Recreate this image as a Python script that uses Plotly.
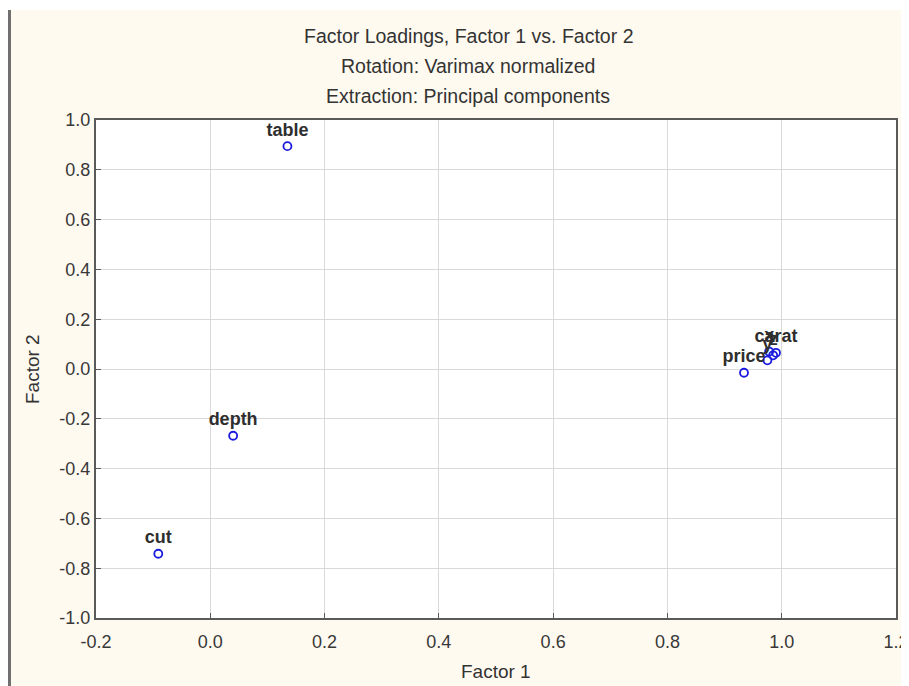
import plotly.graph_objects as go

variables = ["carat", "cut", "depth", "table", "price", "x", "y", "z"]
factor1 = [0.990, -0.091, 0.040, 0.135, 0.934, 0.978, 0.975, 0.985]
factor2 = [0.065, -0.742, -0.268, 0.895, -0.015, 0.070, 0.035, 0.055]

title_lines = ["Factor Loadings, Factor 1 vs. Factor 2",
               "Rotation: Varimax normalized",
               "Extraction: Principal components"]
x_ticks = [-0.2, 0.0, 0.2, 0.4, 0.6, 0.8, 1.0, 1.2]
y_ticks = [-1.0, -0.8, -0.6, -0.4, -0.2, 0.0, 0.2, 0.4, 0.6, 0.8, 1.0]

# page has an 8px body margin, so figure coordinates = reference - 8
OFF = 8
W, H = 909 - OFF, 686 - OFF
L, R, T, B = 88, 13, 112, 68
FONT = "Liberation Sans, Arial"

fig = go.Figure()
fig.add_trace(go.Scatter(
    x=factor1, y=factor2, text=["<b>%s</b>" % v for v in variables],
    mode="markers+text", textposition="top center",
    textfont=dict(family=FONT, size=18, color="#2e2e2e"),
    marker=dict(symbol="circle-open", size=8, color="#1a1adf", line=dict(width=1.8, color="#1a1adf")),
    cliponaxis=False, showlegend=False,
))

axis_common = dict(
    showgrid=True, gridcolor="#d9d9d9", gridwidth=1,
    showline=True, linecolor="#5a5a5a", linewidth=2, mirror=True,
    ticks="inside", ticklen=5, tickcolor="#5a5a5a",
    tickfont=dict(family=FONT, size=18, color="#383838"),
    zeroline=False, automargin=False,
)
fig.update_xaxes(range=[-0.2, 1.2], tickvals=x_ticks, ticktext=[f"{v:.1f}" for v in x_ticks],
                 ticklabelstandoff=6, **axis_common)
fig.update_yaxes(range=[-1.0, 1.0], tickvals=y_ticks, ticktext=[f"{v:.1f}" for v in y_ticks],
                 **axis_common)

pw = W - L - R
ph = H - T - B
def px_x(p):
    return (p - OFF - L) / pw
def px_y(p):
    return 1 - (p - OFF - T) / ph

annos = []
for i, line in enumerate(title_lines):
    annos.append(dict(text=line, x=px_x(468), y=px_y(36 + 30 * i), xref="paper", yref="paper",
                      showarrow=False, xanchor="center", yanchor="middle",
                      font=dict(family=FONT, size=19.5, color="#333333")))
annos.append(dict(text="Factor 1", x=px_x(496), y=px_y(671), xref="paper", yref="paper",
                  showarrow=False, xanchor="center", yanchor="middle",
                  font=dict(family=FONT, size=19, color="#333333")))
annos.append(dict(text="Factor 2", x=px_x(32), y=px_y(369), xref="paper", yref="paper",
                  showarrow=False, xanchor="center", yanchor="middle", textangle=-90,
                  font=dict(family=FONT, size=19, color="#333333")))

shapes = [
    dict(type="rect", xref="paper", yref="paper", x0=px_x(0), x1=px_x(909), y0=px_y(0), y1=px_y(10),
         fillcolor="#ffffff", line=dict(width=0), layer="below"),
    dict(type="rect", xref="paper", yref="paper", x0=px_x(8), x1=px_x(11), y0=px_y(10), y1=px_y(686),
         fillcolor="#707070", line=dict(width=0), layer="below"),
]

fig.update_layout(
    width=W, height=H,
    margin=dict(l=L, r=R, t=T, b=B),
    paper_bgcolor="#fffaf0", plot_bgcolor="#ffffff",
    annotations=annos, shapes=shapes,
)
fig.write_html("out.html")
